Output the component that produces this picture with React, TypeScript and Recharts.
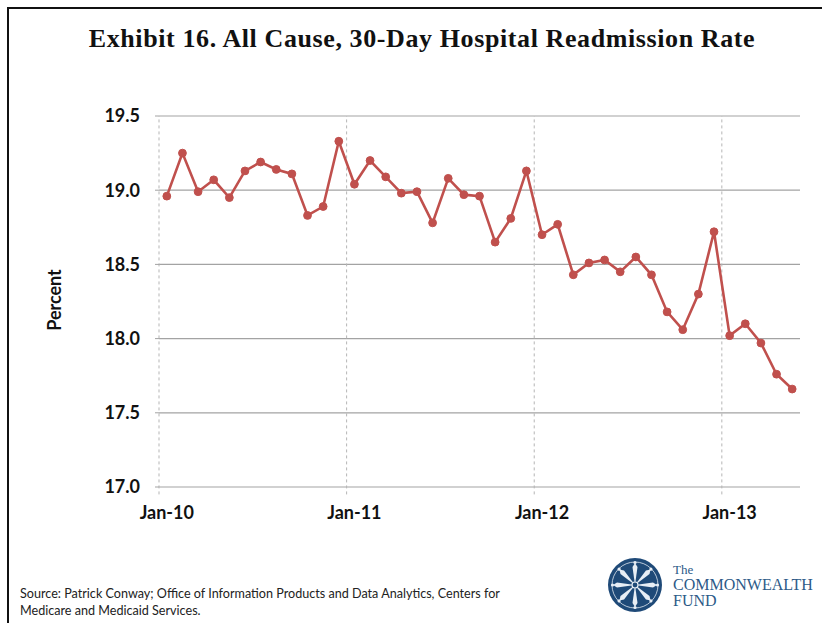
import React from "react";
import { LineChart, Line, XAxis, YAxis, CartesianGrid, ReferenceLine } from "recharts";

const months = [
  "Jan-10", "Feb-10", "Mar-10", "Apr-10", "May-10", "Jun-10", "Jul-10", "Aug-10", "Sep-10", "Oct-10", "Nov-10", "Dec-10",
  "Jan-11", "Feb-11", "Mar-11", "Apr-11", "May-11", "Jun-11", "Jul-11", "Aug-11", "Sep-11", "Oct-11", "Nov-11", "Dec-11",
  "Jan-12", "Feb-12", "Mar-12", "Apr-12", "May-12", "Jun-12", "Jul-12", "Aug-12", "Sep-12", "Oct-12", "Nov-12", "Dec-12",
  "Jan-13", "Feb-13", "Mar-13", "Apr-13", "May-13",
];

// all-cause 30-day readmission rate, percent
const rates = [
  18.96, 19.25, 18.99, 19.07, 18.95, 19.13, 19.19, 19.14, 19.11, 18.83, 18.89, 19.33,
  19.04, 19.2, 19.09, 18.98, 18.99, 18.78, 19.08, 18.97, 18.96, 18.65, 18.81, 19.13,
  18.7, 18.77, 18.43, 18.51, 18.53, 18.45, 18.55, 18.43, 18.18, 18.06, 18.3, 18.72,
  18.02, 18.1, 17.97, 17.76, 17.66,
];

const yTicks = [17.0, 17.5, 18.0, 18.5, 19.0, 19.5];

const data = months.map((m, i) => ({ idx: i, month: m, rate: rates[i] }));
const janIdx = months.map((m, i) => (m.startsWith("Jan") ? i : -1)).filter((i) => i >= 0);

const RED = "#c0504d";
const tickFont = { fontFamily: "Lato, 'Open Sans', sans-serif", fontWeight: 700, fontSize: 18, fill: "#111" };

function Logo() {
  const spokes = Array.from({ length: 8 }, (_, k) => k * 45);
  return (
    <svg width={60} height={60} style={{ position: "absolute", left: 605, top: 555 }}>
      <circle cx={30} cy={30} r={27} fill="#1f4a78" />
      <circle cx={30} cy={30} r={23} fill="none" stroke="#dfe7f0" strokeWidth={0.8} />
      {spokes.map((a) => (
        <g key={a} transform={`rotate(${a} 30 30)`}>
          <path d="M30 30 L27.5 12 L30 8 L32.5 12 Z" fill="#e8eef5" />
          <circle cx={30} cy={7.5} r={1.6} fill="#e8eef5" />
        </g>
      ))}
      <circle cx={30} cy={30} r={3} fill="#1f4a78" stroke="#e8eef5" strokeWidth={1.2} />
    </svg>
  );
}

export default function App() {
  return (
    <div style={{ position: "relative", width: 822, height: 623, background: "#fff", overflow: "hidden" }}>
      <style>{"body{margin:0}"}</style>
      <div
        style={{
          position: "absolute", left: 7, top: 7, width: 830, height: 640,
          borderTop: "2px solid #111", borderLeft: "2px solid #111",
        }}
      />
      <div
        style={{
          position: "absolute", left: 0, top: 24, width: 844, textAlign: "center",
          fontFamily: "'Liberation Serif', serif", fontWeight: 700, fontSize: 26, color: "#111",
          letterSpacing: 0.6,
        }}
      >
        Exhibit 16. All Cause, 30-Day Hospital Readmission Rate
      </div>

      <LineChart
        width={822}
        height={623}
        data={data}
        margin={{ top: 116, right: 22, bottom: 106, left: 99 }}
        style={{ position: "absolute", left: 0, top: 0 }}
      >
        <CartesianGrid vertical={false} stroke="#a3a3a3" strokeWidth={1.2} />
        {janIdx.map((i) => (
          <ReferenceLine
            key={i}
            segment={[{ x: i - 0.5, y: 16.95 }, { x: i - 0.5, y: 19.5 }]}
            ifOverflow="visible"
            stroke="#b5b5b5"
            strokeDasharray="3 3"
          />
        ))}
        <XAxis
          type="number"
          dataKey="idx"
          domain={[-0.5, months.length - 0.5]}
          ticks={janIdx}
          tickFormatter={(i: number) => months[i]}
          axisLine={false}
          tickLine={false}
          tickSize={0}
          tickMargin={19}
          height={30}
          tick={tickFont}
          interval={0}
        />
        <YAxis
          domain={[17, 19.5]}
          ticks={yTicks}
          tickFormatter={(v: number) => v.toFixed(1)}
          axisLine={false}
          tickLine={{ stroke: "#a3a3a3" }}
          tickSize={4}
          tickMargin={15}
          width={60}
          tick={tickFont}
          interval={0}
        />
        <Line
          type="linear"
          dataKey="rate"
          stroke={RED}
          strokeWidth={2.6}
          dot={{ r: 3.9, fill: RED, stroke: RED, strokeWidth: 1 }}
          isAnimationActive={false}
        />
      </LineChart>

      <div
        style={{
          position: "absolute", left: 54, top: 300, transform: "translate(-50%, -50%) rotate(-90deg)",
          fontFamily: "Lato, sans-serif", fontWeight: 700, fontSize: 18, color: "#111", whiteSpace: "nowrap",
        }}
      >
        Percent
      </div>

      <div
        style={{
          position: "absolute", left: 20, top: 585, fontFamily: "Lato, sans-serif", fontSize: 12.6,
          lineHeight: "17px", color: "#222",
        }}
      >
        Source: Patrick Conway; Office of Information Products and Data Analytics, Centers for
        <br />
        Medicare and Medicaid Services.
      </div>

      <Logo />
      <div
        style={{
          position: "absolute", left: 673, top: 563, fontFamily: "'Liberation Serif', serif",
          color: "#2c5a88", lineHeight: 1,
        }}
      >
        <div style={{ fontSize: 13, marginBottom: 1 }}>The</div>
        <div style={{ fontSize: 16 }}>COMMONWEALTH</div>
        <div style={{ fontSize: 16 }}>FUND</div>
      </div>
    </div>
  );
}
